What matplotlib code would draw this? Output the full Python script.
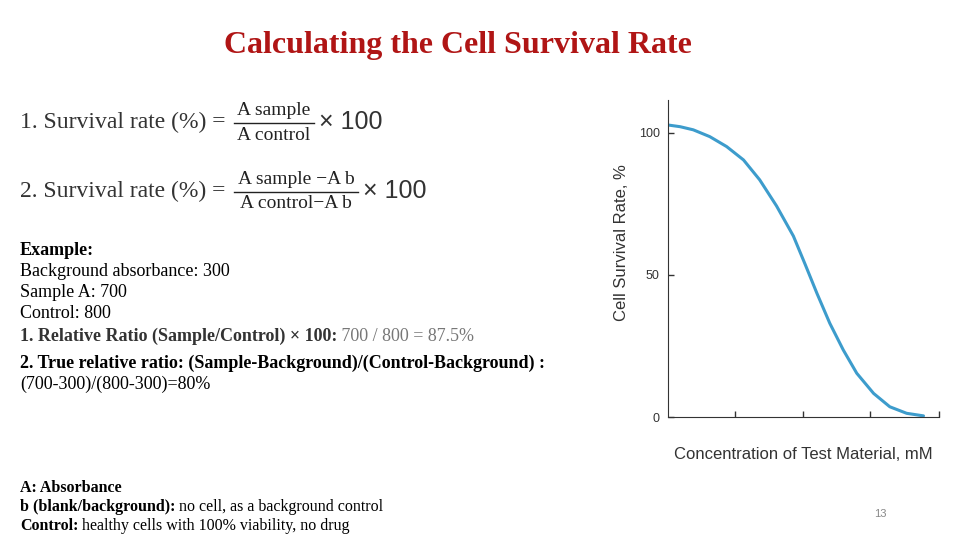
import matplotlib
matplotlib.use("Agg")
import matplotlib.pyplot as plt
from matplotlib.lines import Line2D

# curve
conc = [0.0, 0.18, 0.375, 0.62, 0.87, 1.12, 1.36, 1.61, 1.86, 2.03, 2.21, 2.40, 2.60, 2.80, 3.05, 3.29, 3.54, 3.79]
survival = [102.8, 102.2, 101.1, 98.7, 95.2, 90.5, 83.5, 74.3, 63.7, 54.0, 43.5, 33.0, 23.6, 15.4, 8.3, 3.6, 1.3, 0.4]
yticks = [0, 50, 100]
xticks = [1, 2, 3, 4.02]

title = "Calculating the Cell Survival Rate"
example_lines = ["Background absorbance: 300", "Sample A: 700", "Control: 800"]

serif = "Liberation Serif"
sans = "Liberation Sans"

fig = plt.figure(figsize=(9.6, 5.4), dpi=100)
fig.patch.set_facecolor("white")


def fx(px):
    return px / 960


def fy(py):
    return 1 - py / 540


# chart first, so its annotate can be used for run-on text
ax = fig.add_axes([668 / 960, 1 - 417 / 540, (939 - 668) / 960, (417 - 100) / 540])
ax.plot(conc, survival, color="#3d9ccc", lw=2.2, solid_capstyle="round", solid_joinstyle="round")
ax.set_xlim(0, 4.02)
ax.set_ylim(0, 111.6)
ax.set_xticks(xticks)
ax.set_xticklabels([])
ax.set_yticks(yticks)
ax.set_yticklabels([str(v) for v in yticks], fontsize=9, family=sans, color="#333333")
ax.tick_params(direction="in", length=4, color="#333333", width=1)
ax.tick_params(axis="y", pad=6)
for s in ["top", "right"]:
    ax.spines[s].set_visible(False)
for s in ["left", "bottom"]:
    ax.spines[s].set_color("#333333")
ax.set_ylabel("Cell Survival Rate, %", fontsize=12, family=sans, color="#333333")
ax.yaxis.set_label_coords(-0.145, 0.549)
ax.set_xlabel("Concentration of Test Material, mM", fontsize=12, family=sans, color="#333333", labelpad=18)


def run_on(prev, s, **kw):
    ax.annotate(s, xy=(1, 0), xycoords=prev, ha="left", va="bottom", annotation_clip=False, **kw)


def line_text(y, s, size, **kw):
    # y is the visual middle of the line in pixels; place on a baseline
    return fig.text(fx(20), fy(y + size * 0.38), s, ha="left", va="baseline", fontsize=size,
                    family=serif, **kw)


# title
fig.text(458 / 960, 1 - 45 / 540, title, ha="center", va="center", fontsize=23,
         fontweight="bold", color="#b01515", family=serif)


# formulas
def formula(y, prefix, num, den, bar_x0, bar_x1):
    fig.text(fx(20), fy(y), prefix, ha="left", va="center", fontsize=17, family=serif, color="#333333")
    cx = (bar_x0 + bar_x1) / 2
    fig.text(fx(cx), fy(y - 11), num, ha="center", va="center", fontsize=14, family=serif, color="#222222")
    fig.text(fx(cx), fy(y + 13), den, ha="center", va="center", fontsize=14, family=serif, color="#222222")
    fig.add_artist(Line2D([fx(bar_x0), fx(bar_x1)], [fy(y + 1), fy(y + 1)], color="#222222", lw=1))
    fig.text(fx(bar_x1 + 5), fy(y), "\u00d7 100", ha="left", va="center", fontsize=18, family=sans, color="#333333")


formula(122, "1. Survival rate (%) =", "A sample", "A control", 234, 314)
formula(191, "2. Survival rate (%) =", "A sample \u2212A b", "A control\u2212A b", 234, 358)

# example block
line_text(250, "Example:", 13, fontweight="bold")
for i, line in enumerate(example_lines):
    line_text(271 + 21 * i, line, 13)

t1 = line_text(336, "1. Relative Ratio (Sample/Control) \u00d7 100:", 13, fontweight="bold", color="#333333")
run_on(t1, " 700 / 800 = 87.5%", fontsize=13, family=serif, color="#777777")
line_text(363, "2. True relative ratio: (Sample-Background)/(Control-Background) :", 13, fontweight="bold")
line_text(384, "(700-300)/(800-300)=80%", 13)

# notes at bottom
line_text(488, "A: Absorbance", 11.5, fontweight="bold")
notes = [("b (blank/background):", " no cell, as a background control"),
         ("Control:", " healthy cells with 100% viability, no drug")]
for i, (b, rest) in enumerate(notes):
    tb = line_text(507 + 19 * i, b, 11.5, fontweight="bold")
    run_on(tb, rest, fontsize=11.5, family=serif)

fig.text(fx(880), fy(514), "13", ha="center", va="center", fontsize=8, family=sans, color="#888888")

fig.savefig("out.png", dpi=100, facecolor="white")
